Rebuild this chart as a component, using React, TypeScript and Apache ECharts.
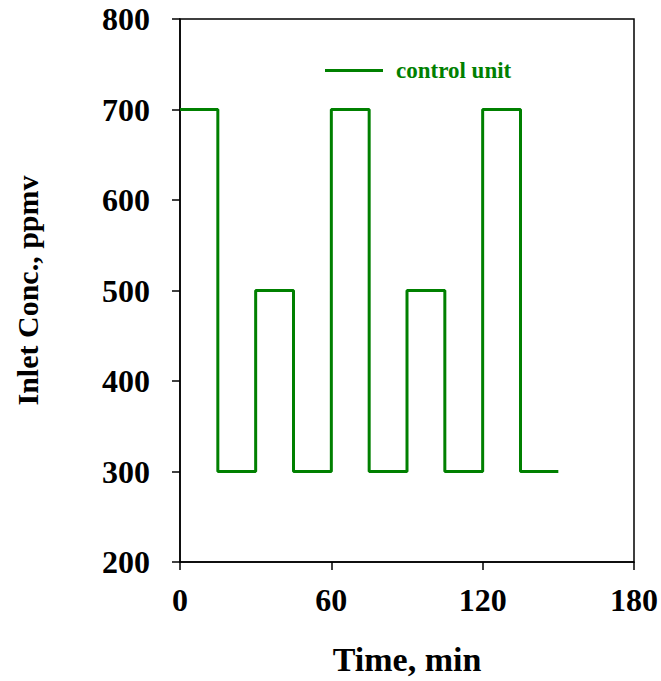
import React, { useEffect, useRef } from "react";
import * as echarts from "echarts";

const timeMin = [0, 15, 30, 45, 60, 75, 90, 105, 120, 135, 150];
const inletConc = [700, 300, 500, 300, 700, 300, 500, 300, 700, 300, 300];
const seriesName = "control unit";
const xTitle = "Time, min";
const yTitle = "Inlet Conc., ppmv";

const FONT = "'Liberation Serif', 'Times New Roman', serif";

export default function App() {
  const ref = useRef<HTMLDivElement>(null);
  useEffect(() => {
    if (!ref.current) return;
    const chart = echarts.init(ref.current, undefined, { renderer: "svg" });
    chart.setOption({
      animation: false,
      backgroundColor: "#fff",
      grid: {
        left: 180,
        top: 19,
        right: 25,
        bottom: 112,
        show: true,
        borderColor: "#000",
        borderWidth: 1.5,
        backgroundColor: "transparent",
      },
      legend: {
        left: 320,
        top: 54,
        icon: "rect",
        itemWidth: 58,
        itemHeight: 3,
        data: [seriesName],
        textStyle: {
          fontFamily: FONT,
          fontWeight: "bold",
          fontSize: 23,
          color: "#008000",
          padding: [0, 0, 0, 8],
        },
      },
      xAxis: {
        type: "value",
        min: 0,
        max: 180,
        interval: 60,
        name: xTitle,
        nameLocation: "middle",
        nameGap: 80,
        nameTextStyle: { fontFamily: FONT, fontWeight: "bold", fontSize: 34, color: "#000" },
        axisLine: { show: true, lineStyle: { color: "#000", width: 1.5 } },
        axisTick: { show: true, inside: false, length: 8, lineStyle: { color: "#000", width: 1.5 } },
        axisLabel: { fontFamily: FONT, fontWeight: "bold", fontSize: 32, color: "#000", margin: 22 },
        splitLine: { show: false },
      },
      yAxis: {
        type: "value",
        min: 200,
        max: 800,
        interval: 100,
        name: yTitle,
        nameLocation: "middle",
        nameGap: 138,
        nameRotate: 90,
        nameTextStyle: { fontFamily: FONT, fontWeight: "bold", fontSize: 30, color: "#000" },
        axisLine: { show: true, lineStyle: { color: "#000", width: 1.5 } },
        axisTick: { show: true, inside: false, length: 8, lineStyle: { color: "#000", width: 1.5 } },
        axisLabel: { fontFamily: FONT, fontWeight: "bold", fontSize: 32, color: "#000", margin: 30 },
        splitLine: { show: false },
      },
      series: [
        {
          name: seriesName,
          type: "line",
          step: "end",
          symbol: "none",
          data: timeMin.map((t, i) => [t, inletConc[i]]),
          lineStyle: { color: "#008000", width: 3 },
          itemStyle: { color: "#008000" },
        },
      ],
    });
    return () => chart.dispose();
  }, []);
  return (
    <div
      ref={ref}
      style={{ position: "fixed", left: 0, top: 0, width: 661, height: 681 }}
    />
  );
}
